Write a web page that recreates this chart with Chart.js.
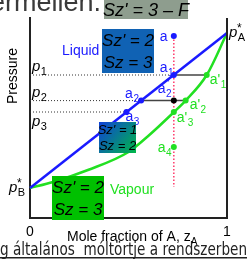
<!DOCTYPE html>
<html>
<head>
<meta charset="utf-8">
<script src="https://cdn.jsdelivr.net/npm/chart.js@4.4.1/dist/chart.umd.min.js"></script>
<style>
  html, body { margin: 0; padding: 0; background: #fff; }
  canvas { display: block; }
</style>
</head>
<body>
<canvas id="chart" width="247" height="259"></canvas>
<script>
// pressure axis is in arbitrary units (0 = bottom, 1 = top of frame)
const pStarB = 0.15;
const pStarA = 0.925;

const liquidX = [0, 1];
const liquidP = [pStarB, pStarA];

const vapourX = [0, 0.117, 0.294, 0.5, 0.6, 0.731, 0.79, 0.897, 1];
const vapourP = [pStarB, 0.18, 0.24, 0.33, 0.41, 0.53, 0.587, 0.715, pStarA];

const isoplethX = 0.73;
const isoplethP = [0.91, 0.155];

const levelNames = ["1", "2", "3"];
const levelP = [0.715, 0.587, 0.53];
const levelLiquidX = [0.73, 0.564, 0.49];
const levelVapourX = [0.897, 0.79, null];

const liquidPtNames = ["a", "a1", "a2", "a3"];
const liquidPtX = [0.73, 0.73, 0.564, 0.49];
const liquidPtP = [0.91, 0.715, 0.587, 0.53];

const vapourPtNames = ["a'1", "a'2", "a'3", "a4"];
const vapourPtX = [0.897, 0.79, 0.73, 0.73];
const vapourPtP = [0.715, 0.587, 0.53, 0.355];

const midPtX = [0.73];
const midPtP = [0.587];

const xTickLabels = ["0", "1"];

const BLUE = "#1a1aff";
const GREEN = "#22e022";

const toPts = (xs, ys) => xs.map((x, i) => ({ x: x, y: ys[i] }));

// label layout (offset from point in px): [dx, dy(baseline), main, sub, sup]
const liquidLabelLayout = [
  [-14, 5, "a", "", ""],
  [-14, -3, "a", "1", ""],
  [-16, -3, "a", "2", ""],
  [-1, 9, "a", "3", ""]
];
const vapourLabelLayout = [
  [3, 9, "a'", "1", ""],
  [4, 8, "a'", "2", ""],
  [3, 10, "a'", "3", ""],
  [-16, 5, "a", "4", ""]
];
const midLabelLayout = [[-16, -8, "a", "2", "\""]];

function drawLabel(ctx, x, y, main, sub, sup, color, size, italic) {
  size = size || 14;
  ctx.save();
  ctx.fillStyle = color;
  ctx.textAlign = "left";
  ctx.textBaseline = "alphabetic";
  ctx.font = (italic ? "italic " : "") + size + "px 'Liberation Sans', Arial, sans-serif";
  ctx.fillText(main, x, y);
  const w = ctx.measureText(main).width;
  ctx.font = Math.round(size * 0.72) + "px 'Liberation Sans', Arial, sans-serif";
  if (sub) ctx.fillText(sub, x + w + 0.5, y + 4);
  if (sup) ctx.fillText(sup, x + w + 0.5, y - 6);
  ctx.restore();
}

function boxText(ctx, lines, x, y, w, h, fill, size) {
  ctx.save();
  ctx.fillStyle = fill;
  ctx.fillRect(x, y, w, h);
  ctx.fillStyle = "#000";
  ctx.font = "italic " + size + "px 'Liberation Sans', Arial, sans-serif";
  ctx.textAlign = "center";
  ctx.textBaseline = "middle";
  lines.forEach((t, i) => {
    ctx.fillText(t, x + w / 2, y + h * (i + 0.5) / lines.length + 1);
  });
  ctx.restore();
}

const annotations = {
  id: "annotations",
  afterDatasetsDraw(chart) {
    const ctx = chart.ctx;
    const xs = chart.scales.x, ys = chart.scales.y;
    const area = chart.chartArea;

    // right frame line
    ctx.save();
    ctx.strokeStyle = "#222";
    ctx.lineWidth = 2;
    ctx.beginPath();
    ctx.moveTo(area.right, area.top);
    ctx.lineTo(area.right, area.bottom);
    ctx.stroke();
    ctx.restore();

    // point labels
    const putLabels = (names, X, P, layout, color) => {
      names.forEach((n, i) => {
        const L = layout[i];
        drawLabel(ctx, xs.getPixelForValue(X[i]) + L[0], ys.getPixelForValue(P[i]) + L[1],
          L[2], L[3], L[4], color, 14);
      });
    };
    putLabels(liquidPtNames, liquidPtX, liquidPtP, liquidLabelLayout, BLUE);
    putLabels(vapourPtNames, vapourPtX, vapourPtP, vapourLabelLayout, GREEN);
    putLabels(["a2''"], midPtX, midPtP, midLabelLayout, BLUE);

    // pressure level labels
    levelNames.forEach((n, i) => {
      const py = ys.getPixelForValue(levelP[i]);
      drawLabel(ctx, area.left + 2, i === 2 ? py + 14 : py - 4, "p", n, "", "#000", 15, true);
    });

    // p*_A and p*_B
    drawLabel(ctx, area.right + 2, ys.getPixelForValue(pStarA) + 4, "p", "A", "", "#000", 15, true);
    drawLabel(ctx, area.right + 10, ys.getPixelForValue(pStarA) - 1, "*", "", "", "#000", 12);
    drawLabel(ctx, area.left - 21, ys.getPixelForValue(pStarB) + 4, "p", "B", "", "#000", 15, true);
    drawLabel(ctx, area.left - 13, ys.getPixelForValue(pStarB) - 1, "*", "", "", "#000", 12);

    // region labels
    ctx.save();
    ctx.font = "14px 'Liberation Sans', Arial, sans-serif";
    ctx.textBaseline = "middle";
    ctx.fillStyle = BLUE;
    ctx.fillText("Liquid", 62, 51);
    ctx.fillStyle = GREEN;
    ctx.fillText("Vapour", 110, 190);
    ctx.restore();

    // Sz boxes
    boxText(ctx, ["Sz' = 2", "Sz = 3"], 102, 29, 52, 44, "#1062b4", 17);
    const g = ctx.createLinearGradient(99, 122, 136, 153);
    g.addColorStop(0, "#1040d8");
    g.addColorStop(1, "#00b848");
    boxText(ctx, ["Sz' = 1", "Sz = 2"], 99, 122, 37, 31, g, 13);
    boxText(ctx, ["Sz' = 2", "Sz = 3"], 52, 176, 52, 44, "#00c000", 17);

    // y axis title
    ctx.save();
    ctx.translate(13, 76);
    ctx.rotate(-Math.PI / 2);
    ctx.font = "14px 'Liberation Sans', Arial, sans-serif";
    ctx.textAlign = "center";
    ctx.textBaseline = "middle";
    ctx.fillStyle = "#000";
    ctx.fillText("Pressure", 0, 0);
    ctx.restore();

    // x axis title
    ctx.save();
    ctx.font = "14px 'Liberation Sans', Arial, sans-serif";
    ctx.fillStyle = "#000";
    const t = "Mole fraction of A, z";
    ctx.fillText(t, 67, 241);
    const tw = ctx.measureText(t).width;
    ctx.font = "10px 'Liberation Sans', Arial, sans-serif";
    ctx.fillText("A", 67 + tw, 245);
    ctx.restore();

    // slide text around the chart
    ctx.save();
    ctx.fillStyle = "#3a3a3a";
    ctx.font = "27px 'Liberation Sans', Arial, sans-serif";
    ctx.textAlign = "right";
    ctx.fillText("ermelien.", 101, 11);
    ctx.restore();
    boxText(ctx, ["Sz' = 3 \u2013 F"], 104, 0, 84, 19, "#8e9d8e", 18);

    ctx.save();
    ctx.fillStyle = "#222";
    ctx.font = "17px 'DejaVu Sans', sans-serif";
    ctx.fillText("g általános  móltörtje a rendszerben", 0, 255, 247);
    ctx.fillRect(0, 257, 247, 1.5);
    ctx.restore();
  }
};

const lineDs = (data, color, width, dash, order) => ({
  data: data, showLine: true, borderColor: color, borderWidth: width,
  borderDash: dash || [], pointRadius: 0, fill: false, order: order, clip: false
});

const ptDs = (data, color, order) => ({
  data: data, showLine: false, backgroundColor: color, borderColor: color,
  pointRadius: 3, pointBorderWidth: 0, order: order, clip: false
});

const datasets = [];
datasets.push(ptDs(toPts(liquidPtX, liquidPtP), "#1a1aff", 0));
datasets.push(ptDs(toPts(vapourPtX, vapourPtP), GREEN, 0));
datasets.push(ptDs(toPts(midPtX, midPtP), "#000", 0));
datasets.push(lineDs(toPts(liquidX, liquidP), BLUE, 2.5, null, 2));
datasets.push(Object.assign(lineDs(toPts(vapourX, vapourP), GREEN, 2.5, null, 2), { cubicInterpolationMode: "monotone" }));
datasets.push(lineDs([{ x: isoplethX, y: isoplethP[0] }, { x: isoplethX, y: isoplethP[1] }], "#ff3a6a", 1.5, [1.5, 2], 3));
levelP.forEach((p, i) => {
  datasets.push(lineDs([{ x: 0, y: p }, { x: levelLiquidX[i], y: p }], "#333", 1, [1, 2], 4));
  if (levelVapourX[i] !== null) {
    datasets.push(lineDs([{ x: levelLiquidX[i], y: p }, { x: levelVapourX[i], y: p }], "#444", 1.5, null, 4));
  }
});

new Chart(document.getElementById("chart"), {
  type: "scatter",
  data: { datasets: datasets },
  options: {
    responsive: false,
    animation: false,
    devicePixelRatio: 1,
    layout: { padding: { top: 18, right: 20, left: 0, bottom: 0 } },
    plugins: { legend: { display: false }, tooltip: { enabled: false } },
    scales: {
      x: {
        type: "linear", min: 0, max: 1,
        grid: { display: false, drawTicks: false },
        border: { display: true, color: "#222", width: 2 },
        ticks: {
          stepSize: 1, padding: 6, color: "#000",
          font: { size: 14, family: "'Liberation Sans', Arial, sans-serif" },
          callback: (v) => xTickLabels[v] !== undefined ? xTickLabels[v] : ""
        },
        afterFit: (s) => { s.height = 41; }
      },
      y: {
        type: "linear", min: 0, max: 1,
        grid: { display: false, drawTicks: false },
        border: { display: true, color: "#222", width: 2 },
        ticks: { display: false },
        afterFit: (s) => { s.width = 30; }
      }
    }
  },
  plugins: [annotations]
});
</script>
</body>
</html>
